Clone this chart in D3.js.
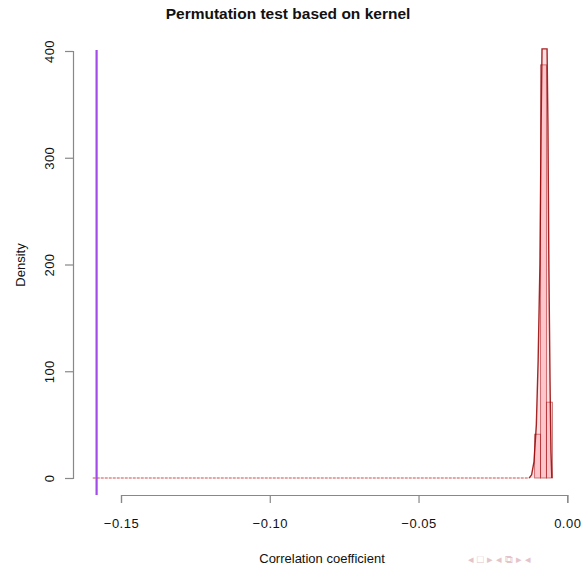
<!DOCTYPE html>
<html>
<head>
<meta charset="utf-8">
<script src="https://cdn.jsdelivr.net/npm/d3@7"></script>
<style>
  body { margin: 0; background: #fff; }
  text { font-family: "Liberation Sans", Arial, sans-serif; }
</style>
</head>
<body>
<div id="graf"></div>
<script>
// Datos
var xTicks = [-0.15, -0.10, -0.05, 0.00];
var yTicks = [0, 100, 200, 300, 400];
var binStarts = [-0.011, -0.009, -0.007];
var binDensity = [41, 387, 71];
var binWidth = 0.002;
var densX = [-0.1595, -0.0128, -0.0120, -0.0112, -0.0104, -0.0098, -0.0092, -0.0088, -0.0085, -0.0068, -0.0065, -0.0062, -0.0058, -0.0055, -0.0052];
var densY = [0, 0, 3, 15, 50, 110, 200, 330, 402, 402, 330, 200, 90, 25, 0];
var observed = -0.1582;

var ancho_total = 586, alto_total = 566;

var svg = d3.select("#graf").append("svg")
  .attr("width", ancho_total)
  .attr("height", alto_total);

// Escaladores
var x = d3.scaleLinear().domain([-0.15, 0]).range([121, 567.3]);
var y = d3.scaleLinear().domain([0, 400]).range([478, 51]);

// Histograma
svg.append("g").selectAll("rect")
  .data(binStarts)
  .enter().append("rect")
  .attr("x", d => x(d))
  .attr("width", d => x(d + binWidth) - x(d))
  .attr("y", (d, i) => y(binDensity[i]))
  .attr("height", (d, i) => y(0) - y(binDensity[i]))
  .attr("fill", "rgba(255,60,80,0.16)")
  .attr("stroke", "rgba(139,0,0,0.5)")
  .attr("stroke-width", 1);

// Densidad
var dens = densX.map((d, i) => ({ x: d, y: densY[i] }));
var areaGen = d3.area().x(d => x(d.x)).y0(y(0)).y1(d => y(d.y));
var lineaGen = d3.line().x(d => x(d.x)).y(d => y(d.y));

svg.append("path")
  .attr("d", areaGen(dens))
  .attr("fill", "rgba(255,60,80,0.16)");

// linea base punteada
svg.append("line")
  .attr("x1", x(densX[0])).attr("x2", x(densX[1]))
  .attr("y1", y(0)).attr("y2", y(0))
  .attr("stroke", "#dc8a8a")
  .attr("stroke-width", 1.4)
  .attr("stroke-dasharray", "3,1");

svg.append("path")
  .attr("d", lineaGen(dens.slice(1)))
  .attr("fill", "none")
  .attr("stroke", "rgba(150,0,0,0.85)")
  .attr("stroke-width", 1.4);

// Valor observado
svg.append("line")
  .attr("x1", x(observed)).attr("x2", x(observed))
  .attr("y1", y(401)).attr("y2", y(-16))
  .attr("stroke", "#a24be8")
  .attr("stroke-width", 2.2);

// Ejes
var xAxis = svg.append("g")
  .attr("transform", "translate(0,495)")
  .call(d3.axisBottom(x).tickValues(xTicks).tickFormat(d3.format(".2f")).tickSize(8));
var yAxis = svg.append("g")
  .attr("transform", "translate(73,0)")
  .call(d3.axisLeft(y).tickValues(yTicks).tickSize(8));

[xAxis, yAxis].forEach(a => {
  a.select(".domain").attr("stroke", "#888").attr("stroke-width", 1.2);
  a.selectAll(".tick line").attr("stroke", "#888").attr("stroke-width", 1.2);
  a.selectAll("text").attr("font-size", 13).attr("fill", "#111")
    .style("font-family", "'Liberation Sans', Arial, sans-serif")
    .style("letter-spacing", "0.5px");
});
xAxis.selectAll(".tick text").attr("y", 28).attr("dy", "0.35em");

yAxis.selectAll(".tick text")
  .attr("text-anchor", "middle")
  .attr("x", null)
  .attr("transform", "translate(-24,0) rotate(-90)")
  .attr("y", 0)
  .attr("dy", "0.35em");

// Titulos
svg.append("text")
  .attr("x", 288).attr("y", 19)
  .attr("text-anchor", "middle")
  .attr("font-size", 15.5).attr("font-weight", "bold")
  .attr("fill", "#111")
  .text("Permutation test based on kernel");

svg.append("text")
  .attr("x", 322).attr("y", 563)
  .attr("text-anchor", "middle")
  .attr("font-size", 13).attr("fill", "#111")
  .text("Correlation coefficient");

svg.append("text")
  .attr("transform", "translate(20,265) rotate(-90)")
  .attr("text-anchor", "middle")
  .attr("dy", "0.35em")
  .attr("font-size", 13).attr("fill", "#111")
  .text("Density");

// simbolos de navegacion (tenues)
svg.append("text")
  .attr("x", 468).attr("y", 563)
  .attr("font-size", 11).attr("fill", "#e4c4cb")
  .text("◂ □ ▸ ◂ ⧉ ▸ ◂");
</script>
</body>
</html>
